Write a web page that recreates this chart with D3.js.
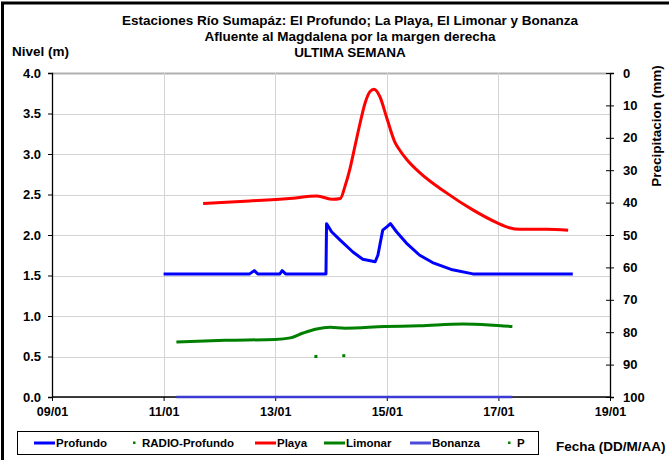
<!DOCTYPE html>
<html>
<head>
<meta charset="utf-8">
<script src="https://cdn.jsdelivr.net/npm/d3@7"></script>
<style>
  body { margin: 0; background: #fff; }
  text { font-family: "Liberation Sans", Arial, sans-serif; font-weight: bold; }
</style>
</head>
<body>
<div id="chart"></div>
<script>
    var width = 669;
    var height = 460;

    // readings, [fecha, nivel]
    var profundo = [
      ["11/01 00:00", 1.52], ["12/01 13:00", 1.52], ["12/01 15:00", 1.56], ["12/01 16:30", 1.52],
      ["13/01 02:00", 1.52], ["13/01 03:00", 1.56], ["13/01 04:30", 1.52], ["13/01 21:50", 1.52],
      ["13/01 22:05", 2.14], ["14/01 00:15", 2.04], ["14/01 03:50", 1.94], ["14/01 09:25", 1.79],
      ["14/01 13:40", 1.70], ["14/01 19:00", 1.67], ["14/01 20:10", 1.75], ["14/01 22:15", 2.06],
      ["15/01 00:00", 2.10], ["15/01 01:35", 2.14], ["15/01 04:10", 2.04], ["15/01 08:25", 1.90],
      ["15/01 14:10", 1.75], ["15/01 19:40", 1.66], ["16/01 04:15", 1.57], ["16/01 13:00", 1.52],
      ["18/01 08:00", 1.52]
    ];
    var radioProfundo = [["13/01 17:30", 0.50], ["14/01 05:30", 0.51]];
    var playa = [
      ["11/01 17:00", 2.39], ["12/01 13:00", 2.42], ["13/01 06:00", 2.45], ["13/01 18:00", 2.48],
      ["14/01 00:50", 2.44], ["14/01 04:00", 2.45], ["14/01 06:00", 2.60], ["14/01 08:10", 2.82],
      ["14/01 10:15", 3.09], ["14/01 12:30", 3.38], ["14/01 14:40", 3.63], ["14/01 16:45", 3.77],
      ["14/01 18:30", 3.80], ["14/01 21:00", 3.71], ["14/01 23:50", 3.46], ["15/01 03:25", 3.15],
      ["15/01 05:30", 3.05], ["15/01 08:40", 2.93], ["15/01 14:10", 2.77], ["16/01 01:40", 2.52],
      ["16/01 13:00", 2.31], ["16/01 23:30", 2.15], ["17/01 04:40", 2.09], ["17/01 09:00", 2.07],
      ["17/01 20:40", 2.07], ["18/01 06:00", 2.06]
    ];
    var limonar = [
      ["11/01 05:30", 0.68], ["12/01 02:30", 0.70], ["13/01 00:00", 0.71], ["13/01 06:30", 0.73],
      ["13/01 12:00", 0.79], ["13/01 17:50", 0.84], ["13/01 23:35", 0.86], ["14/01 06:00", 0.85],
      ["14/01 23:00", 0.87], ["15/01 14:10", 0.88], ["16/01 08:40", 0.90], ["16/01 20:00", 0.89],
      ["17/01 06:00", 0.87]
    ];
    var bonanza = [["11/01 05:30", 0.0], ["17/01 06:00", 0.0]];

    var titulo = [
      "Estaciones Río Sumapáz: El Profundo; La Playa, El Limonar y Bonanza",
      "Afluente al Magdalena por la margen derecha",
      "ULTIMA SEMANA"
    ];
    var leyenda = ["Profundo", "RADIO-Profundo", "Playa", "Limonar", "Bonanza", "P"];
    var fechaInicio = "09/01 00:00", fechaFin = "19/01 00:00";

    var parse = d3.timeParse("%d/%m %H:%M");
    var fmt = d3.timeFormat("%d/%m");

    // plot frame (window.top is taken, so own names)
    var pLeft = 52, pRight = 610, pTop = 73, pBottom = 397;

    var x = d3.scaleTime().domain([parse(fechaInicio), parse(fechaFin)]).range([pLeft, pRight]);
    var y = d3.scaleLinear().domain([0, 4]).range([pBottom, pTop]);
    var y2 = d3.scaleLinear().domain([0, 100]).range([pTop, pBottom]);

    var svg = d3.select("#chart")
                .append("svg")
                .attr("width", width)
                .attr("height", height);

    // frame round the whole chart
    svg.append("rect").attr("x", 2.5).attr("y", 3).attr("width", 700).attr("height", 500)
       .attr("fill", "none").attr("stroke", "#000").attr("stroke-width", 3);

    // gridlines
    var xticks = d3.timeDay.every(2).range(parse(fechaInicio), d3.timeHour.offset(parse(fechaFin), 1));
    svg.append("g").selectAll("line").data(y.ticks(8)).enter().append("line")
       .attr("x1", pLeft).attr("x2", pRight)
       .attr("y1", function(d) { return Math.round(y(d)) + 0.5; })
       .attr("y2", function(d) { return Math.round(y(d)) + 0.5; })
       .attr("stroke", function(d) { return d == 4 ? "#b0b0b0" : "#d4d4d4"; })
       .attr("stroke-width", function(d) { return d == 4 ? 2 : 1; });
    svg.append("g").selectAll("line").data(xticks.slice(1, -1)).enter().append("line")
       .attr("y1", pTop).attr("y2", pBottom)
       .attr("x1", function(d) { return Math.round(x(d)) + 0.5; })
       .attr("x2", function(d) { return Math.round(x(d)) + 0.5; })
       .attr("stroke", "#d4d4d4");

    // axes
    var yAxis = svg.append("g").attr("transform", "translate(" + pLeft + ",0)")
       .call(d3.axisLeft(y).ticks(8).tickFormat(d3.format(".1f")).tickSize(4).tickPadding(7));
    var y2Axis = svg.append("g").attr("transform", "translate(" + pRight + ",0)")
       .call(d3.axisRight(y2).ticks(10).tickSize(4).tickPadding(9));
    y2Axis.selectAll(".tick line").attr("x1", -4);
    var xAxis = svg.append("g").attr("transform", "translate(0," + pBottom + ")")
       .call(d3.axisBottom(x).tickValues(xticks).tickFormat(fmt).tickSize(4).tickPadding(6));
    [yAxis, y2Axis, xAxis].forEach(function(a) {
       a.select(".domain").attr("stroke", "#000").attr("stroke-width", 1.3);
       a.selectAll(".tick line").attr("stroke", "#000");
       a.selectAll("text").attr("font-size", 13).attr("fill", "#000")
        .attr("font-family", "'Liberation Sans', Arial, sans-serif").attr("font-weight", "bold");
    });
    xAxis.selectAll("text").attr("font-size", 12.5);
    xAxis.selectAll(".domain").attr("d", "M" + pLeft + ",0H" + pRight);

    // series
    var smooth = d3.line()
                 .x(function(d) { return x(parse(d[0])); })
                 .y(function(d) { return y(d[1]); })
                 .curve(d3.curveMonotoneX);
    var straight = d3.line()
                 .x(function(d) { return x(parse(d[0])); })
                 .y(function(d) { return y(d[1]); });

    var drawline = function(data, color, w, gen) {
       svg.append("path").datum(data).attr("d", gen)
          .attr("fill", "none").attr("stroke", color).attr("stroke-width", w)
          .attr("stroke-linejoin", "round");
    }
    drawline(bonanza, "#3c3cd4", 2.5, straight);
    drawline(limonar, "#008000", 3, smooth);
    drawline(profundo, "#0000ff", 3, straight);
    drawline(playa, "#ff0000", 3, smooth);

    svg.append("g").selectAll("rect").data(radioProfundo).enter().append("rect")
       .attr("x", function(d) { return x(parse(d[0])) - 1.5; })
       .attr("y", function(d) { return y(d[1]) - 1.5; })
       .attr("width", 3).attr("height", 3).attr("fill", "#008000");

    // titles
    svg.append("g").selectAll("text").data(titulo).enter().append("text")
       .attr("x", 350).attr("y", function(d, i) { return 25 + i * 16; })
       .attr("text-anchor", "middle").attr("font-size", 13.5).text(function(d) { return d; });
    svg.append("text").attr("x", 12).attr("y", 56).attr("font-size", 13.5).text("Nivel (m)");
    svg.append("text").attr("transform", "translate(661,126) rotate(-90)")
       .attr("text-anchor", "middle").attr("font-size", 13.5).text("Precipitacion (mm)");
    svg.append("text").attr("x", 556).attr("y", 451).attr("font-size", 13.5).text("Fecha (DD/M/AA)");

    // legend
    var lg = svg.append("g");
    lg.append("rect").attr("x", 17.5).attr("y", 431.5).attr("width", 521).attr("height", 23)
      .attr("fill", "#fff").attr("stroke", "#000");
    var legx = [34, 128, 255, 324, 410, 503];
    var legcol = ["#0000ff", "#008000", "#ff0000", "#008000", "#4a4ad8", "#008000"];
    leyenda.forEach(function(name, i) {
       if (name == "RADIO-Profundo" || name == "P") {
          lg.append("rect").attr("x", legx[i] + 5).attr("y", 441.5).attr("width", 2.5).attr("height", 2.5)
            .attr("fill", legcol[i]);
          lg.append("text").attr("x", legx[i] + 14).attr("y", 447).attr("font-size", 11.5).text(name);
       } else {
          lg.append("line").attr("x1", legx[i]).attr("x2", legx[i] + 21).attr("y1", 443).attr("y2", 443)
            .attr("stroke", legcol[i]).attr("stroke-width", 3);
          lg.append("text").attr("x", legx[i] + 22).attr("y", 447).attr("font-size", 11.5).text(name);
       }
    });
</script>
</body>
</html>
